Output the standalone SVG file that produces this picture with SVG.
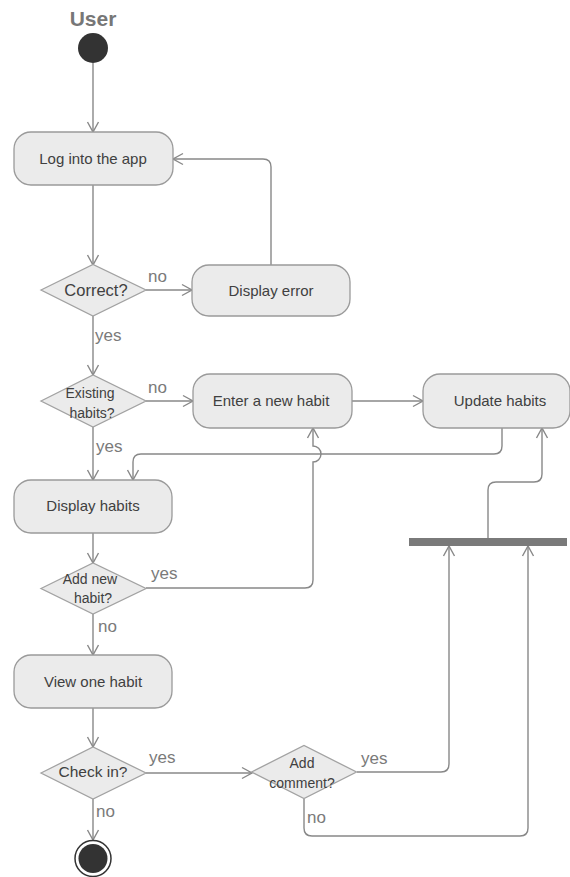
<svg xmlns="http://www.w3.org/2000/svg" width="570" height="877" viewBox="0 0 570 877">
  <style>
    .bg { fill: #ffffff; }
    .act { fill: #ebebeb; stroke: #9a9a9a; stroke-width: 1.3; }
    .dec { fill: #ebebeb; stroke: #a2a2a2; stroke-width: 1.3; }
    .txt { font-family: "Liberation Sans", Arial, sans-serif; font-size: 15px; fill: #404040; text-anchor: middle; }
    .dtxt { font-family: "Liberation Sans", Arial, sans-serif; font-size: 14px; fill: #404040; text-anchor: middle; }
    .lbl { font-family: "Liberation Sans", Arial, sans-serif; font-size: 17px; fill: #7a7a7a; }
    .title { font-family: "Liberation Sans", Arial, sans-serif; font-size: 21px; font-weight: bold; fill: #777777; text-anchor: middle; }
    .flow { fill: none; stroke: #888888; stroke-width: 1.4; marker-end: url(#arrow); }
    .bar { fill: #7a7a7a; }
    .dot { fill: #333333; }
  </style>
  <defs>
    <marker id="arrow" markerUnits="userSpaceOnUse" markerWidth="14" markerHeight="14" viewBox="-12 -7 14 14" refX="0" refY="0" orient="auto">
      <path d="M-10,-5.5 L0,0 L-10,5.5" fill="none" stroke="#888888" stroke-width="1.4"/>
    </marker>
  </defs>

  <rect class="bg" x="0" y="0" width="570" height="877"/>

  <!-- swimlane title -->
  <text class="title" x="93" y="26">User</text>

  <!-- connectors -->
  <g id="connectors">
    <path class="flow" d="M93,63 L93,132"/>
    <path class="flow" d="M93,185 L93,265"/>
    <path class="flow" d="M146,290 L192,290"/>
    <path class="flow" d="M271,265 L271,167 Q271,159 263,159 L173,159"/>
    <path class="flow" d="M93,316 L93,375"/>
    <path class="flow" d="M146,401 L193,401"/>
    <path class="flow" d="M93,427 L93,480"/>
    <path class="flow" d="M352,401 L423,401"/>
    <path class="flow" d="M502,428 L502,446 Q502,454 494,454 L141,454 Q133,454 133,462 L133,480"/>
    <path class="flow" d="M93,533 L93,563"/>
    <path class="flow" d="M146,588 L305,588 Q313,588 313,580 L313,462 A8,8 0 0 0 313,446 L313,428"/>
    <path class="flow" d="M93,614 L93,655"/>
    <path class="flow" d="M93,708 L93,747"/>
    <path class="flow" d="M146,773 L252,773"/>
    <path class="flow" d="M93,799 L93,840"/>
    <path class="flow" d="M357,772 L441,772 Q449,772 449,764 L449,546"/>
    <path class="flow" d="M304,799 L304,828 Q304,836 312,836 L520,836 Q528,836 528,828 L528,546"/>
    <path class="flow" d="M488,538 L488,490 Q488,482 496,482 L534,482 Q542,482 542,474 L542,428"/>

    <!-- guard labels -->
    <text class="lbl" x="148" y="282">no</text>
    <text class="lbl" x="95" y="341">yes</text>
    <text class="lbl" x="148" y="393">no</text>
    <text class="lbl" x="96" y="452">yes</text>
    <text class="lbl" x="151" y="579">yes</text>
    <text class="lbl" x="98" y="632">no</text>
    <text class="lbl" x="149" y="763">yes</text>
    <text class="lbl" x="96" y="817">no</text>
    <text class="lbl" x="361" y="764">yes</text>
    <text class="lbl" x="307" y="823">no</text>
  </g>

  <g id="start">
    <circle class="dot" cx="93" cy="48" r="15"/>
  </g>

  <g id="log-in">
    <rect class="act" x="14" y="132" width="159" height="53" rx="17"/>
    <text class="txt" x="93" y="164">Log into the app</text>
  </g>

  <g id="correct">
    <polygon class="dec" points="41,290 93,264.5 146,290 93,316"/>
    <text class="txt" x="96" y="296" style="font-size:16.5px">Correct?</text>
  </g>

  <g id="display-error">
    <rect class="act" x="192" y="265" width="158" height="51" rx="17"/>
    <text class="txt" x="271" y="296">Display error</text>
  </g>

  <g id="existing-habits">
    <polygon class="dec" points="41,401 93,375 146,401 93,427"/>
    <text class="dtxt" x="90" y="398">Existing</text>
    <text class="dtxt" x="92" y="418">habits?</text>
  </g>

  <g id="enter-habit">
    <rect class="act" x="193" y="374" width="159" height="54" rx="17"/>
    <text class="txt" x="271" y="406">Enter a new habit</text>
  </g>

  <g id="update-habits">
    <rect class="act" x="423" y="374" width="147" height="54" rx="17"/>
    <text class="txt" x="500" y="406">Update habits</text>
  </g>

  <g id="display-habits">
    <rect class="act" x="14" y="480" width="158" height="53" rx="17"/>
    <text class="txt" x="93" y="511">Display habits</text>
  </g>

  <g id="join-bar">
    <rect class="bar" x="409" y="538" width="158" height="8"/>
  </g>

  <g id="add-new-habit">
    <polygon class="dec" points="41,588.5 93,563 146,588.5 93,614"/>
    <text class="dtxt" x="90" y="584">Add new</text>
    <text class="dtxt" x="93" y="603">habit?</text>
  </g>

  <g id="view-habit">
    <rect class="act" x="14" y="655" width="158" height="53" rx="17"/>
    <text class="txt" x="93" y="687">View one habit</text>
  </g>

  <g id="check-in">
    <polygon class="dec" points="41,773 93,747 146,773 93,799"/>
    <text class="dtxt" x="93" y="777" style="font-size:15.5px">Check in?</text>
  </g>

  <g id="add-comment">
    <polygon class="dec" points="251.5,772 304,745.5 356.5,772 304,798.5"/>
    <text class="dtxt" x="302" y="768">Add</text>
    <text class="dtxt" x="302" y="788">comment?</text>
  </g>

  <g id="end">
    <circle cx="93" cy="858.5" r="18" fill="#ffffff" stroke="#333333" stroke-width="1.5"/>
    <circle class="dot" cx="93" cy="858.5" r="14.5"/>
  </g>
</svg>
